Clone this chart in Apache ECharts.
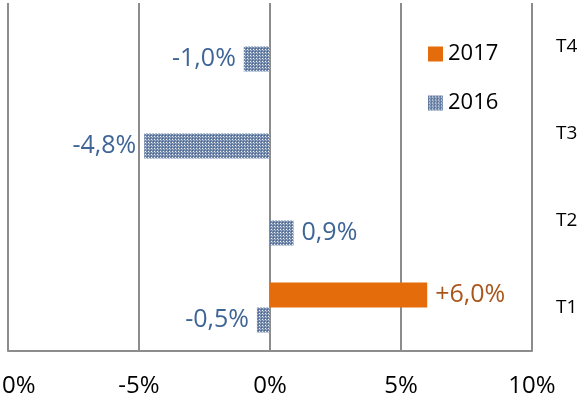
<!DOCTYPE html>
<html>
<head>
<meta charset="utf-8">
<script src="https://cdn.jsdelivr.net/npm/echarts@6/dist/echarts.min.js"></script>
<style>
  html, body { margin: 0; padding: 0; background: #fff; }
  #chart { width: 578px; height: 400px; }
</style>
</head>
<body>
<div id="chart"></div>
<script>
var categories = ['T1', 'T2', 'T3', 'T4'];
var values2017 = [6.0, null, null, null];
var values2016 = [-0.5, 0.9, -4.8, -1.0];
var xTicks = [-10, -5, 0, 5, 10];

// little checker tile for the 2016 bars
function makePattern() {
  var c = document.createElement('canvas');
  c.width = 3; c.height = 3;
  var ctx = c.getContext('2d');
  ctx.fillStyle = '#7188ab';
  ctx.fillRect(0, 0, 3, 3);
  ctx.fillStyle = '#4a6690';
  ctx.fillRect(0, 0, 1, 1);
  ctx.fillStyle = '#eef2f7';
  ctx.fillRect(1, 1, 1, 1);
  ctx.fillStyle = '#a9b8cf';
  ctx.fillRect(2, 2, 1, 1);
  return c;
}

var font = '"Open Sans", "Liberation Sans", sans-serif';

function fmt(v, plus) {
  var s = Math.abs(v).toFixed(1).replace('.', ',') + '%';
  if (v < 0) return '-' + s;
  return (plus ? '+' : '') + s;
}

function barData(vals, plus, color) {
  return vals.map(function (v) {
    if (v === null) return null;
    return {
      value: v,
      label: {
        show: true,
        position: v < 0 ? 'left' : 'right',
        distance: 8,
        color: color,
        fontSize: 25,
        fontFamily: font,
        formatter: function () { return fmt(v, plus); }
      }
    };
  });
}

var mychart = echarts.init(document.getElementById('chart'));
var option = {
  animation: false,
  textStyle: { fontFamily: font },
  grid: { left: 8, right: 46, top: 3, bottom: 49, containLabel: false, outerBoundsMode: 'none' },
  legend: {
    orient: 'vertical',
    left: 423,
    top: 38,
    itemWidth: 15,
    itemHeight: 15,
    itemGap: 27,
    icon: 'rect',
    textStyle: { fontSize: 22, color: '#000', fontFamily: font },
    data: ['2017', '2016']
  },
  xAxis: {
    type: 'value',
    min: xTicks[0],
    max: xTicks[xTicks.length - 1],
    interval: 5,
    axisLine: { show: true, lineStyle: { color: '#8c8c8c', width: 2 } },
    axisTick: { show: false },
    splitLine: { show: true, lineStyle: { color: '#8c8c8c', width: 2 } },
    axisLabel: {
      fontSize: 24,
      color: '#000',
      margin: 23,
      fontFamily: font,
      formatter: function (v) { return v + '%'; }
    }
  },
  yAxis: {
    type: 'category',
    position: 'right',
    data: categories,
    axisLine: { show: false },
    axisTick: { show: false },
    axisLabel: { fontSize: 19, color: '#000', margin: 24, fontFamily: font }
  },
  series: [
    {
      name: '2017',
      type: 'bar',
      barWidth: 25,
      barGap: '0%',
      itemStyle: { color: '#e46c0a' },
      data: barData(values2017, true, '#a9561c')
    },
    {
      name: '2016',
      type: 'bar',
      barWidth: 25,
      barGap: '0%',
      itemStyle: { color: { image: makePattern(), repeat: 'repeat' } },
      data: barData(values2016, false, '#3f6597')
    }
  ]
};
mychart.setOption(option);
</script>
</body>
</html>
